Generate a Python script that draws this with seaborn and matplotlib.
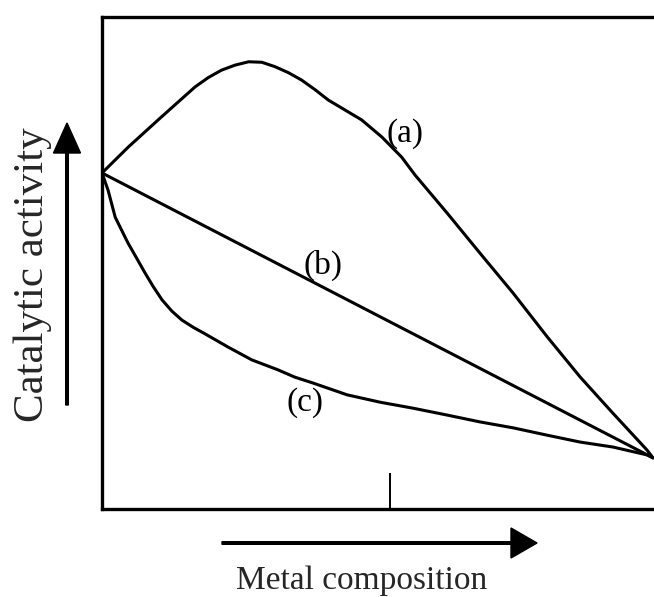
import numpy as np
import pandas as pd
import matplotlib
matplotlib.use("Agg")
import matplotlib.pyplot as plt
from matplotlib.patches import FancyArrow
from matplotlib.transforms import IdentityTransform
import seaborn as sns

# Schematic activity curves versus alloy composition (arbitrary units)
comp_a = [0.0, 0.048, 0.108, 0.169, 0.193, 0.217, 0.241, 0.266, 0.290, 0.314,
          0.338, 0.362, 0.387, 0.411, 0.441, 0.471, 0.508, 0.544, 0.568,
          0.626, 0.686, 0.746, 0.808, 0.868, 0.927, 0.989, 1.0]
act_a = [0.683, 0.736, 0.797, 0.858, 0.877, 0.892, 0.902, 0.909, 0.908, 0.899,
         0.887, 0.872, 0.852, 0.831, 0.811, 0.791, 0.756, 0.715, 0.679,
         0.602, 0.520, 0.439, 0.350, 0.268, 0.195, 0.120, 0.104]

comp_b = [0.0, 1.0]
act_b = [0.683, 0.104]

comp_c = [0.0, 0.011, 0.024, 0.047, 0.078, 0.093, 0.109, 0.127, 0.145, 0.166,
          0.187, 0.229, 0.272, 0.319, 0.350, 0.383, 0.445, 0.505, 0.564,
          0.626, 0.686, 0.746, 0.808, 0.868, 0.927, 0.989, 1.0]
act_c = [0.683, 0.648, 0.593, 0.541, 0.480, 0.452, 0.425, 0.402, 0.384, 0.369,
         0.356, 0.329, 0.303, 0.283, 0.268, 0.256, 0.232, 0.217, 0.205,
         0.191, 0.177, 0.165, 0.150, 0.136, 0.126, 0.110, 0.104]

curve_labels = ["(a)", "(b)", "(c)"]
label_pos = [(0.550, 0.764), (0.401, 0.496), (0.368, 0.217)]
mid_tick = [0.523]

xlabel = "Metal composition"
ylabel = "Catalytic activity"

sns.set_style("white")
plt.rcParams["font.family"] = ["Liberation Serif", "DejaVu Serif"]

W, H, DPI = 654, 597, 100
fig = plt.figure(figsize=(W / DPI, H / DPI), dpi=DPI)

# axes box in pixels: left 102, right edge just past the figure, bottom 509, top 17
left_px, right_px, bot_px, top_px = 102, 662, 509, 17
ax = fig.add_axes([left_px / W, (H - bot_px) / H,
                   (right_px - left_px) / W, (bot_px - top_px) / H])

frames = []
for name, xs, ys in [("(a)", comp_a, act_a), ("(b)", comp_b, act_b), ("(c)", comp_c, act_c)]:
    frames.append(pd.DataFrame({"composition": xs, "activity": ys, "curve": name}))
df = pd.concat(frames, ignore_index=True)

sns.lineplot(data=df, x="composition", y="activity", hue="curve",
             palette=["black"] * 3, estimator=None, sort=False,
             linewidth=2.2, legend=False, ax=ax)
for ln in ax.lines:
    ln.set_solid_joinstyle("round")
    ln.set_solid_capstyle("round")

ax.set_xlim(0, (right_px - left_px) / (653 - left_px))
ax.set_ylim(0, 1)

for lab, (x, y) in zip(curve_labels, label_pos):
    ax.text(x, y, lab, fontsize=24, ha="center", va="center", color="black")

ax.set_xticks(mid_tick)
ax.set_xticklabels([])
ax.set_yticks([])
ax.tick_params(axis="x", direction="in", length=26, width=1.4, color="black",
               bottom=True)
ax.set_xlabel("")
ax.set_ylabel("")
for sp in ax.spines.values():
    sp.set_visible(True)
    sp.set_color("black")
    sp.set_linewidth(2.4)

# direction arrows along the axes, in pixel coordinates
ident = IdentityTransform()
fig.add_artist(FancyArrow(222, H - 543, 537 - 222, 0, width=2.6,
                          head_width=30, head_length=26,
                          length_includes_head=True, color="black",
                          transform=ident))
fig.add_artist(FancyArrow(67, H - 405, 0, 405 - 123, width=2.6,
                          head_width=27, head_length=30,
                          length_includes_head=True, color="black",
                          transform=ident))

fig.text(362 / W, (H - 589) / H, xlabel, fontsize=24, ha="center", va="baseline")
fig.text(43 / W, (H - 275) / H, ylabel, fontsize=31, rotation=90,
         rotation_mode="anchor", ha="center", va="baseline")

fig.savefig("out.png", dpi=DPI)
